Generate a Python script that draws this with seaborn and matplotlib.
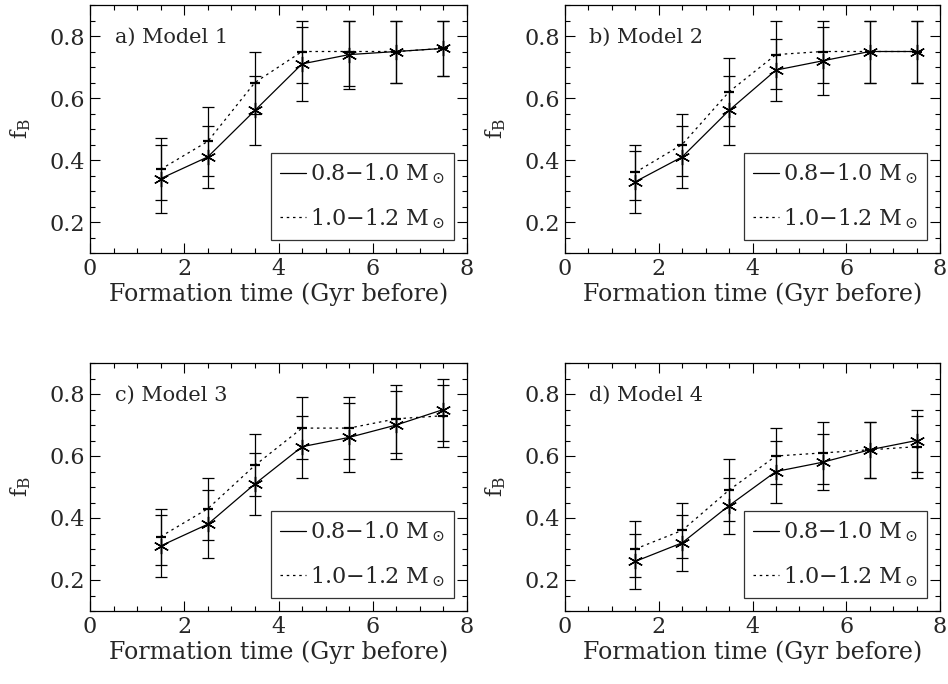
import numpy as np
import pandas as pd
import matplotlib
matplotlib.use("Agg")
import matplotlib.pyplot as plt
import seaborn as sns
from matplotlib.ticker import MultipleLocator
from matplotlib.lines import Line2D

sns.set_theme(style="ticks")
plt.rcParams['font.family'] = ['DejaVu Serif']
plt.rcParams['mathtext.fontset'] = 'dejavuserif'

x = [1.5, 2.5, 3.5, 4.5, 5.5, 6.5, 7.5]
panel_titles = ["a) Model 1", "b) Model 2", "c) Model 3", "d) Model 4"]
series_labels = [r"0.8$-$1.0 M$_\odot$", r"1.0$-$1.2 M$_\odot$"]
x_ticks = [0, 2, 4, 6, 8]
y_ticks = [0.2, 0.4, 0.6, 0.8]

# Model 1
m1_low = [0.34, 0.41, 0.56, 0.71, 0.74, 0.75, 0.76]
m1_low_lo = [0.23, 0.31, 0.45, 0.59, 0.63, 0.65, 0.67]
m1_low_hi = [0.47, 0.51, 0.67, 0.83, 0.85, 0.85, 0.85]
m1_high = [0.37, 0.46, 0.65, 0.75, 0.75, 0.75, 0.76]
m1_high_lo = [0.27, 0.35, 0.55, 0.65, 0.64, 0.65, 0.67]
m1_high_hi = [0.45, 0.57, 0.75, 0.85, 0.85, 0.85, 0.85]
# Model 2
m2_low = [0.33, 0.41, 0.56, 0.69, 0.72, 0.75, 0.75]
m2_low_lo = [0.23, 0.31, 0.45, 0.59, 0.61, 0.65, 0.65]
m2_low_hi = [0.45, 0.51, 0.67, 0.79, 0.83, 0.85, 0.85]
m2_high = [0.36, 0.45, 0.62, 0.74, 0.75, 0.75, 0.75]
m2_high_lo = [0.27, 0.35, 0.51, 0.63, 0.65, 0.65, 0.65]
m2_high_hi = [0.43, 0.55, 0.73, 0.85, 0.85, 0.85, 0.85]
# Model 3
m3_low = [0.31, 0.38, 0.51, 0.63, 0.66, 0.70, 0.75]
m3_low_lo = [0.21, 0.27, 0.41, 0.53, 0.55, 0.59, 0.65]
m3_low_hi = [0.43, 0.49, 0.61, 0.73, 0.77, 0.81, 0.85]
m3_high = [0.34, 0.43, 0.57, 0.69, 0.69, 0.72, 0.73]
m3_high_lo = [0.25, 0.33, 0.47, 0.59, 0.59, 0.61, 0.63]
m3_high_hi = [0.41, 0.53, 0.67, 0.79, 0.79, 0.83, 0.83]
# Model 4
m4_low = [0.26, 0.32, 0.44, 0.55, 0.58, 0.62, 0.65]
m4_low_lo = [0.17, 0.23, 0.35, 0.45, 0.49, 0.53, 0.55]
m4_low_hi = [0.35, 0.41, 0.53, 0.65, 0.67, 0.71, 0.75]
m4_high = [0.30, 0.36, 0.49, 0.60, 0.61, 0.62, 0.63]
m4_high_lo = [0.21, 0.27, 0.39, 0.51, 0.51, 0.53, 0.53]
m4_high_hi = [0.39, 0.45, 0.59, 0.69, 0.71, 0.71, 0.73]

models = [
    (m1_low, m1_low_lo, m1_low_hi, m1_high, m1_high_lo, m1_high_hi),
    (m2_low, m2_low_lo, m2_low_hi, m2_high, m2_high_lo, m2_high_hi),
    (m3_low, m3_low_lo, m3_low_hi, m3_high, m3_high_lo, m3_high_hi),
    (m4_low, m4_low_lo, m4_low_hi, m4_high, m4_high_lo, m4_high_hi),
]

fig = plt.figure(figsize=(9.48, 6.84), dpi=100)
W, H = 948, 684
boxes = [(90, 5, 377, 248), (565, 5, 375, 248), (90, 363, 377, 248), (565, 363, 375, 248)]

for i, (box, mdl, title) in enumerate(zip(boxes, models, panel_titles)):
    l, t, w, h = box
    ax = fig.add_axes([l / W, 1 - (t + h) / H, w / W, h / H])
    lo, lo_l, lo_h, hi, hi_l, hi_h = mdl
    df = pd.DataFrame({
        "x": x * 2,
        "y": list(lo) + list(hi),
        "series": [series_labels[0]] * 7 + [series_labels[1]] * 7,
    })
    # error bars
    for yv, yl, yh in ((lo, lo_l, lo_h), (hi, hi_l, hi_h)):
        yv = np.array(yv); yl = np.array(yl); yh = np.array(yh)
        ax.errorbar(x, yv, yerr=[yv - yl, yh - yv], fmt='none', ecolor='black',
                    elinewidth=0.9, capsize=4.5, capthick=0.9, zorder=2)
    sns.lineplot(data=df, x="x", y="y", style="series", color="black",
                 dashes={series_labels[0]: "", series_labels[1]: (2, 3)},
                 linewidth=0.9, ax=ax, legend=False, zorder=3)
    # markers
    ax.plot(x, lo, linestyle='none', marker=(6, 2, 0), markersize=11, color='black', mew=1.0, zorder=4)
    ax.plot(x, hi, linestyle='none', marker='_', markersize=7, color='black', mew=1.6, zorder=4)
    ax.set_xlim(0, 8)
    ax.set_ylim(0.1, 0.9)
    ax.set_xticks(x_ticks)
    ax.set_xticklabels([str(v) for v in x_ticks])
    ax.set_yticks(y_ticks)
    ax.set_yticklabels([f"{v:.1f}" for v in y_ticks])
    ax.xaxis.set_minor_locator(MultipleLocator(0.5))
    ax.yaxis.set_minor_locator(MultipleLocator(0.05))
    ax.tick_params(which='both', direction='in', top=True, right=True, labelsize=16, width=0.8, color='black')
    ax.tick_params(which='major', length=7)
    ax.tick_params(which='minor', length=3.5)
    for s in ax.spines.values():
        s.set_linewidth(0.9)
        s.set_color('black')
    ax.set_xlabel("Formation time (Gyr before)", fontsize=17, labelpad=2)
    ax.set_ylabel(r"f$_\mathrm{B}$", fontsize=16, labelpad=12)
    ax.text(0.065, 0.871, title, transform=ax.transAxes, fontsize=15, ha='left', va='center')
    handles = [Line2D([], [], color='black', lw=0.9),
               Line2D([], [], color='black', lw=0.9, dashes=(2, 3))]
    leg = ax.legend(handles, series_labels, loc='lower right', fontsize=16, frameon=True,
                    fancybox=False, edgecolor='black', handlelength=1.2, handletextpad=0.15,
                    borderaxespad=0.6, labelspacing=0.9, borderpad=0.4)
    leg.get_frame().set_linewidth(0.9)

fig.savefig("out.png", dpi=100)
